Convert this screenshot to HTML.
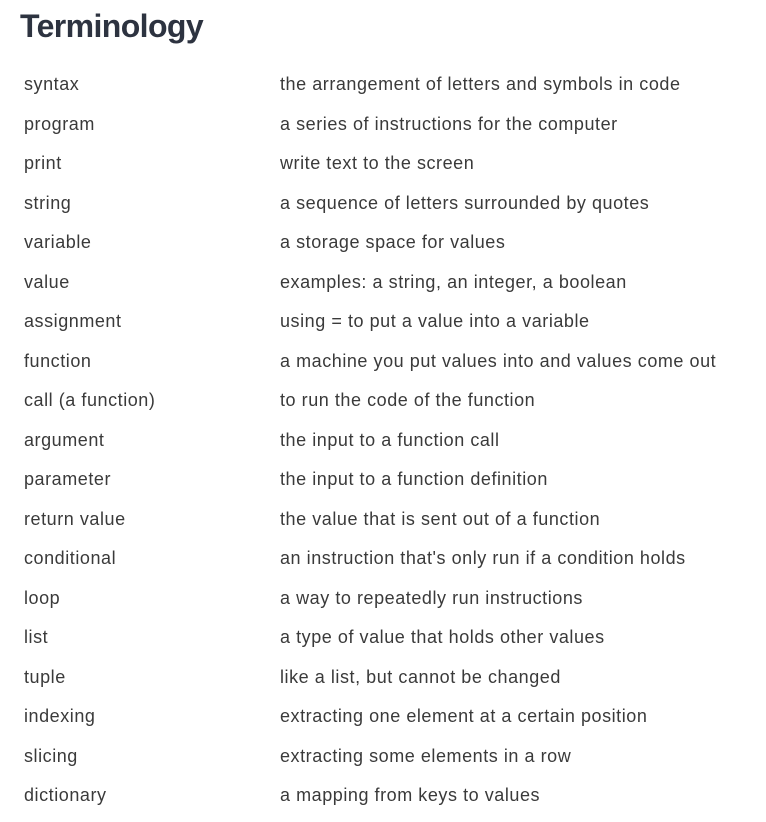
<!DOCTYPE html>
<html><head><meta charset="utf-8"><style>
body{margin:0;width:766px;height:822px;background:#fff;font-family:"Liberation Sans",sans-serif;color:#3a3a3a;overflow:hidden}
h1{position:absolute;left:20px;top:8px;margin:0;font-size:32px;font-weight:bold;color:#2d3340;letter-spacing:-0.6px}
.row{position:absolute;left:0;width:766px;height:39.5px;font-size:18px;line-height:39.5px;letter-spacing:0.55px}
.t{position:absolute;left:24px}
.d{position:absolute;left:280px;white-space:nowrap}
</style></head><body>
<h1>Terminology</h1>
<div id="tbl"></div>
<script>
const terms=["syntax","program","print","string","variable","value","assignment","function","call (a function)","argument","parameter","return value","conditional","loop","list","tuple","indexing","slicing","dictionary"];
const defs=["the arrangement of letters and symbols in code","a series of instructions for the computer","write text to the screen","a sequence of letters surrounded by quotes","a storage space for values","examples: a string, an integer, a boolean","using = to put a value into a variable","a machine you put values into and values come out","to run the code of the function","the input to a function call","the input to a function definition","the value that is sent out of a function","an instruction that's only run if a condition holds","a way to repeatedly run instructions","a type of value that holds other values","like a list, but cannot be changed","extracting one element at a certain position","extracting some elements in a row","a mapping from keys to values"];
const tbl=document.getElementById('tbl');
terms.forEach((t,i)=>{
  const r=document.createElement('div');r.className='row';r.style.top=(65+i*39.5)+'px';
  
  
  const a=document.createElement('span');a.className='t';a.textContent=t;
  
  
  const b=document.createElement('span');b.className='d';b.textContent=defs[i];
  
  
  r.appendChild(a);r.appendChild(b);tbl.appendChild(r);
});
</script>
</body></html>
